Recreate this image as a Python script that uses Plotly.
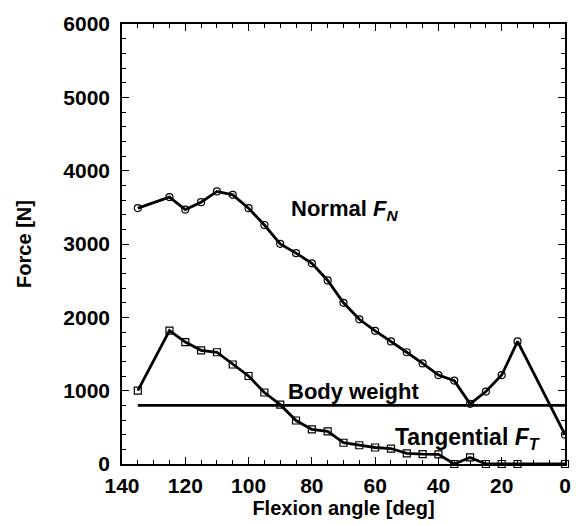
import plotly.graph_objects as go

# Normal force F_N (circles)
normal_angle = [135, 125, 120, 115, 110, 105, 100, 95, 90, 85, 80, 75, 70, 65, 60, 55, 50, 45, 40, 35, 30, 25, 20, 15, 0]
normal_force = [3490, 3640, 3470, 3570, 3717, 3670, 3488, 3259, 3002, 2876, 2737, 2503, 2198, 1973, 1816, 1672, 1524, 1371, 1213, 1137, 820, 988, 1213, 1672, 400]

# Tangential force F_T (squares)
tang_angle = [135, 125, 120, 115, 110, 105, 100, 95, 90, 85, 80, 75, 70, 65, 60, 55, 50, 45, 40, 35, 30, 25, 20, 15, 0]
tang_force = [1000, 1820, 1663, 1550, 1524, 1357, 1200, 975, 809, 593, 472, 445, 290, 256, 225, 211, 144, 135, 131, 0, 90, 0, 0, 0, 0]

# Body weight line
bw_angle = [135, 0]
bw_force = [800, 800]

x_ticks = [140, 120, 100, 80, 60, 40, 20, 0]
y_ticks = [0, 1000, 2000, 3000, 4000, 5000, 6000]

FONT = "Liberation Sans"

fig = go.Figure()
fig.add_trace(go.Scatter(x=bw_angle, y=bw_force, mode="lines",
                         line=dict(color="black", width=2.8), showlegend=False))
fig.add_trace(go.Scatter(x=normal_angle, y=normal_force, mode="lines+markers",
                         line=dict(color="black", width=2.8),
                         marker=dict(symbol="circle-open", size=7, color="black", line=dict(width=1.2)),
                         showlegend=False))
fig.add_trace(go.Scatter(x=tang_angle, y=tang_force, mode="lines+markers",
                         line=dict(color="black", width=2.8),
                         marker=dict(symbol="square-open", size=7, color="black", line=dict(width=1.2)),
                         showlegend=False, cliponaxis=False))

axis_common = dict(
    showgrid=False, zeroline=False, showline=True, linecolor="black", linewidth=1.5,
    mirror="ticks", ticks="inside", tickcolor="black", tickwidth=1.2, ticklen=7,
    tickfont=dict(family=FONT, size=21, color="black", weight="bold"),
)

fig.update_layout(
    width=583, height=525,
    margin=dict(l=122, r=16, t=24, b=56),
    paper_bgcolor="white", plot_bgcolor="white",
    xaxis=dict(range=[140, 0], tickvals=x_ticks,
               minor=dict(dtick=5, ticks="inside", ticklen=4, tickcolor="black", tickwidth=1),
               title=dict(text="<b>Flexion angle [deg]</b>", font=dict(family=FONT, size=20, color="black"), standoff=2),
               ticklabelstandoff=2,
               **axis_common),
    yaxis=dict(range=[0, 6000], tickvals=y_ticks,
               minor=dict(dtick=200, ticks="inside", ticklen=4, tickcolor="black", tickwidth=1),
               title=dict(text="<b>Force [N]</b>", font=dict(family=FONT, size=20, color="black"), standoff=26),
               ticklabelstandoff=6,
               **axis_common),
    annotations=[
        dict(x=87.3, y=3470, xref="x", yref="y", xanchor="left", yanchor="middle", showarrow=False,
             text="<b>Normal <i>F<sub>N</sub></i></b>", font=dict(family=FONT, size=22, color="black")),
        dict(x=88.2, y=990, xref="x", yref="y", xanchor="left", yanchor="middle", showarrow=False,
             text="<b>Body weight</b>", font=dict(family=FONT, size=22, color="black")),
        dict(x=54.5, y=350, xref="x", yref="y", xanchor="left", yanchor="middle", showarrow=False,
             text="<b>Tangential <i>F<sub>T</sub></i></b>", font=dict(family=FONT, size=23, color="black")),
    ],
)

fig.write_html("out.html")
